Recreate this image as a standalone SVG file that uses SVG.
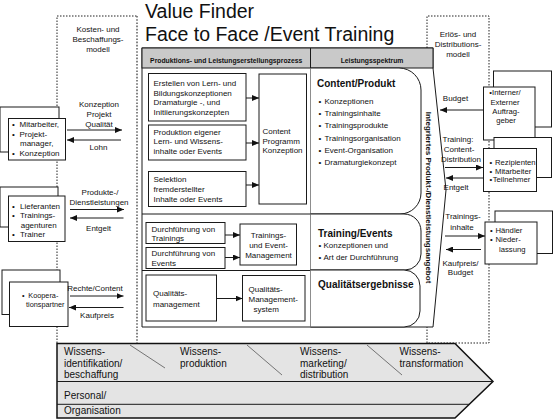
<svg xmlns="http://www.w3.org/2000/svg" width="553" height="419" viewBox="0 0 553 419">
<defs>
<style>
text{font-family:"Liberation Sans",Arial,sans-serif;fill:#111}
.t{font-size:8px}
.s{font-size:7.7px}
.k{font-size:7.3px}
.h{font-size:6.8px;font-weight:bold}
.big{font-size:10px;font-weight:bold}
.band{font-size:10px}
.ttl{font-size:19.5px}
.m{text-anchor:middle}
.box{fill:#fff;stroke:#1a1a1a;stroke-width:1}
.ln{fill:none;stroke:#1a1a1a;stroke-width:1}
.arr{fill:none;stroke:#1a1a1a;stroke-width:1;marker-end:url(#ah)}
.dot{fill:none;stroke:#222;stroke-width:1;stroke-dasharray:1.5 1.5}
.dotb{fill:none;stroke:#666;stroke-width:1.6;stroke-dasharray:1.6 1.6}
.sep{stroke:#444;stroke-width:0.7}
</style>
<marker id="ah" viewBox="0 0 7 6" refX="7" refY="3" markerWidth="7" markerHeight="6" markerUnits="userSpaceOnUse" orient="auto"><path d="M0,0 L7,3 L0,6 z" fill="#111"/></marker>
</defs>
<rect width="553" height="419" fill="#fff"/>

<g id="title">
<text class="ttl" x="145" y="17.5">Value Finder</text>
<text class="ttl" x="145" y="40.5">Face to Face /Event Training</text>
</g>

<g id="kosten-modell">
<path class="dot" d="M57,343 V16 H137"/>
<path class="dotb" d="M137,16 V343"/>
<text class="t m" x="98" y="32">Kosten- und</text>
<text class="t m" x="98" y="42">Beschaffungs-</text>
<text class="t m" x="98" y="52">modell</text>
</g>

<g id="erloes-modell">
<path class="dot" d="M427,48 V16 H489 V343 H427 V327"/>
<text class="t m" x="458" y="37">Erlös- und</text>
<text class="t m" x="458" y="47">Distributions-</text>
<text class="t m" x="458" y="57">modell</text>
</g>

<g id="main-frame">
<path class="box" d="M142,48 H433 V68 L446,190 L433,327 H142 Z"/>
<rect x="142" y="48" width="291" height="20" fill="#c9c9c9" stroke="#1a1a1a" stroke-width="1"/>
<line class="ln" x1="310.5" y1="48" x2="310.5" y2="327"/>
<line class="ln" x1="142" y1="214" x2="310.5" y2="214"/>
<line class="ln" x1="142" y1="270.5" x2="310.5" y2="270.5"/>
<text class="h m" x="226.2" y="62.5">Produktions- und Leistungserstellungsprozess</text>
<text class="h m" x="372" y="62.5">Leistungsspektrum</text>
<text class="t" font-weight="bold" text-anchor="middle" transform="translate(425.5,197.5) rotate(90)">Integriertes Produkt-/Dienstleistungsangebot</text>
</g>

<g id="erstellen">
<rect class="box" x="148.5" y="73.5" width="97.5" height="47.5"/>
<text class="t" x="153.5" y="86">Erstellen von Lern- und</text>
<text class="t" x="153.5" y="95.7">Bildungskonzeptionen</text>
<text class="t" x="153.5" y="105.3">Dramaturgie -, und</text>
<text class="t" x="153.5" y="115">Initiierungskonzepten</text>
</g>
<g id="produktion">
<rect class="box" x="148.5" y="125" width="97.5" height="35"/>
<text class="t" x="153.5" y="134.5">Produktion eigener</text>
<text class="t" x="153.5" y="144.2">Lern- und Wissens-</text>
<text class="t" x="153.5" y="154.2">inhalte oder Events</text>
</g>
<g id="selektion">
<rect class="box" x="148.5" y="171.5" width="97.5" height="35"/>
<text class="t" x="153.5" y="182">Selektion</text>
<text class="t" x="153.5" y="192">fremderstellter</text>
<text class="t" x="153.5" y="202">Inhalte oder Events</text>
</g>
<g id="content-programm">
<rect class="box" x="259" y="74" width="47.5" height="130"/>
<text class="t" x="262.5" y="133.5">Content</text>
<text class="t" x="262.5" y="143.5">Programm</text>
<text class="t" x="262.5" y="153.3">Konzeption</text>
</g>
<g id="durchfuehrung-trainings">
<rect class="box" x="146" y="222.5" width="79" height="21"/>
<text class="t" x="151.5" y="232">Durchführung von</text>
<text class="t" x="151.5" y="241">Trainings</text>
</g>
<g id="durchfuehrung-events">
<rect class="box" x="146" y="247.5" width="79" height="21"/>
<text class="t" x="151.5" y="255.5">Durchführung von</text>
<text class="t" x="151.5" y="266">Events</text>
</g>
<g id="event-management">
<rect class="box" x="240" y="224" width="56.5" height="41"/>
<text class="t m" x="268.5" y="238">Trainings-</text>
<text class="t m" x="268.5" y="248.3">und  Event-</text>
<text class="t m" x="268.5" y="258.3">Management</text>
</g>
<g id="qualitaetsmanagement">
<rect class="box" x="146" y="275" width="70.5" height="46"/>
<text class="t" x="153" y="295.5">Qualitäts-</text>
<text class="t" x="153" y="307">management</text>
</g>
<g id="qm-system">
<rect class="box" x="242.5" y="275.5" width="62.5" height="45.5"/>
<text class="t" x="248.5" y="292">Qualitäts-</text>
<text class="t" x="248.5" y="302">Management-</text>
<text class="t" x="253.5" y="312">system</text>
</g>

<g id="content-produkt">
<path class="box" d="M310.5,68 H399 A22,22 0 0 1 421,90 V193 A21,21 0 0 1 400,214 H310.5"/>
<text class="big" x="317" y="87">Content/Produkt</text>
<text class="t"><tspan x="318.5" y="104">•</tspan><tspan x="324.5" y="104">Konzeptionen</tspan></text>
<text class="t"><tspan x="318.5" y="116.2">•</tspan><tspan x="324.5" y="116.2">Trainingsinhalte</tspan></text>
<text class="t"><tspan x="318.5" y="128.4">•</tspan><tspan x="324.5" y="128.4">Trainingsprodukte</tspan></text>
<text class="t"><tspan x="318.5" y="140.6">•</tspan><tspan x="324.5" y="140.6">Trainingsorganisation</tspan></text>
<text class="t"><tspan x="318.5" y="152.8">•</tspan><tspan x="324.5" y="152.8">Event-Organisation</tspan></text>
<text class="t"><tspan x="318.5" y="165">•</tspan><tspan x="324.5" y="165">Dramaturgiekonzept</tspan></text>
</g>
<g id="training-events">
<path class="box" d="M310.5,214 H404 A17,17 0 0 1 421,231 V254 A16,16 0 0 1 405,270 H310.5"/>
<text class="big" x="318" y="237">Training/Events</text>
<text class="t"><tspan x="318.5" y="248">•</tspan><tspan x="323.5" y="248">Konzeptionen und</tspan></text>
<text class="t"><tspan x="318.5" y="259.5">•</tspan><tspan x="323.5" y="259.5">Art der Durchführung</tspan></text>
</g>
<g id="qualitaetsergebnisse">
<path class="box" d="M310.5,270 H404 A16,16 0 0 1 420,286 V311 A16,16 0 0 1 404,327 H310.5"/>
<text class="big" x="318" y="288">Qualitätsergebnisse</text>
</g>

<g id="mitarbeiter">
<rect class="box" x="0" y="107" width="59" height="45"/>
<rect class="box" x="8.5" y="118.5" width="57" height="41.5"/>
<text class="t"><tspan x="12" y="127">•</tspan><tspan x="19.5" y="127">Mitarbeiter,</tspan></text>
<text class="t"><tspan x="12" y="136.7">•</tspan><tspan x="19.5" y="136.7">Projekt-</tspan></text>
<text class="t" x="20" y="146.3">manager,</text>
<text class="t"><tspan x="12" y="156">•</tspan><tspan x="19.5" y="156">Konzeption</tspan></text>
</g>
<g id="lieferanten">
<rect class="box" x="0" y="187" width="58" height="40"/>
<rect class="box" x="8.5" y="196" width="56.5" height="45.5"/>
<text class="t"><tspan x="12" y="208.5">•</tspan><tspan x="20" y="208.5">Lieferanten</tspan></text>
<text class="t"><tspan x="12" y="218.3">•</tspan><tspan x="20" y="218.3">Trainings-</tspan></text>
<text class="t" x="20.7" y="228">agenturen</text>
<text class="t"><tspan x="12" y="237.3">•</tspan><tspan x="20" y="237.3">Trainer</tspan></text>
</g>
<g id="kooperationspartner">
<rect class="box" x="2" y="270" width="58" height="44.5"/>
<rect class="box" x="9.5" y="282" width="58.5" height="44.5"/>
<text class="k"><tspan x="22" y="297.5">•</tspan><tspan x="28.3" y="297.5">Koopera-</tspan></text>
<text class="k" x="26" y="307">tionspartner</text>
</g>

<g id="auftraggeber">
<rect class="box" x="493.5" y="71" width="58" height="56"/>
<rect class="box" x="483.5" y="87" width="51.5" height="53"/>
<text class="s m" x="505" y="95">•Interner/</text>
<text class="s m" x="505" y="104.5">Externer</text>
<text class="s m" x="506" y="113.7">Auftrag-</text>
<text class="s m" x="506" y="123">geber</text>
</g>
<g id="rezipienten">
<rect class="box" x="494" y="137.5" width="57.5" height="40"/>
<rect class="box" x="483.5" y="148.5" width="53" height="43"/>
<text class="s"><tspan x="489.5" y="164.5">•</tspan><tspan x="495" y="164.5">Rezipienten</tspan></text>
<text class="s"><tspan x="489.5" y="173.5">•</tspan><tspan x="495" y="173.5">Mitarbeiter</tspan></text>
<text class="s"><tspan x="489.5" y="182.3">•</tspan><tspan x="492.7" y="182.3">Teilnehmer</tspan></text>
</g>
<g id="haendler">
<rect class="box" x="495" y="211" width="57.5" height="42.5"/>
<rect class="box" x="485" y="222" width="52" height="42"/>
<text class="s"><tspan x="490" y="233">•</tspan><tspan x="495.5" y="233">Händler</tspan></text>
<text class="s"><tspan x="490" y="242.3">•</tspan><tspan x="495.5" y="242.3">Nieder-</tspan></text>
<text class="s" x="499" y="252">lassung</text>
</g>

<g id="connectors">
<line class="arr" x1="67" y1="130" x2="122" y2="130"/>
<line class="arr" x1="121" y1="140" x2="67" y2="140"/>
<line class="arr" x1="70" y1="209.5" x2="124" y2="209.5"/>
<line class="arr" x1="123.5" y1="218" x2="70" y2="218"/>
<line class="arr" x1="70" y1="296" x2="123.5" y2="296"/>
<line class="arr" x1="123.5" y1="307.5" x2="69" y2="307.5"/>
<line class="arr" x1="246" y1="98" x2="259" y2="98"/>
<line class="arr" x1="246" y1="143" x2="259" y2="143"/>
<line class="arr" x1="246" y1="185" x2="259" y2="185"/>
<line class="arr" x1="225" y1="235" x2="240" y2="235"/>
<line class="arr" x1="225" y1="257.5" x2="240" y2="257.5"/>
<line class="arr" x1="216.5" y1="298.5" x2="242.5" y2="298.5"/>
<line class="arr" x1="483.5" y1="110" x2="440" y2="110"/>
<line class="arr" x1="445" y1="167.5" x2="483" y2="167.5"/>
<line class="arr" x1="483" y1="178" x2="446" y2="178"/>
<line class="arr" x1="445" y1="236" x2="485" y2="236"/>
<line class="arr" x1="481" y1="249.5" x2="446" y2="249.5"/>
<text class="t m" x="99" y="107">Konzeption</text>
<text class="t m" x="99" y="117">Projekt</text>
<text class="t m" x="99" y="126.5">Qualität</text>
<text class="t m" x="98.5" y="150">Lohn</text>
<text class="t m" x="100" y="194.5">Produkte-/</text>
<text class="t m" x="99" y="204.5">Dienstleistungen</text>
<text class="t m" x="98.5" y="230.5">Entgelt</text>
<text class="t m" x="95" y="291">Rechte/Content</text>
<text class="t m" x="97" y="318">Kaufpreis</text>
<text class="t m" x="455.5" y="100.5">Budget</text>
<text class="t m" x="458" y="142">Training:</text>
<text class="t m" x="459" y="152">Content-</text>
<text class="t m" x="461" y="162">Distribution</text>
<text class="t m" x="456" y="189.5">Entgelt</text>
<text class="t m" x="463" y="219">Trainings-</text>
<text class="t m" x="462" y="229.5">inhalte</text>
<text class="t m" x="460.5" y="265.5">Kaufpreis/</text>
<text class="t m" x="460.5" y="275">Budget</text>
</g>

<g id="wertschoepfung">
<path d="M57,343.5 H455 L493,381.5 L455,418 H57 Z" fill="#e4e4e4" stroke="#111" stroke-width="1.5"/>
<line class="ln" x1="57" y1="381.5" x2="493" y2="381.5"/>
<line class="ln" x1="57" y1="404.3" x2="469" y2="404.3"/>
<line class="sep" x1="130" y1="345" x2="165" y2="368"/>
<line class="sep" x1="247" y1="345" x2="282" y2="375"/>
<line class="sep" x1="367" y1="345" x2="402" y2="375"/>
<text class="band" x="64" y="355">Wissens-</text>
<text class="band" x="64" y="366.5">identifikation/</text>
<text class="band" x="64" y="378">beschaffung</text>
<text class="band" x="180" y="355">Wissens-</text>
<text class="band" x="180" y="366.5">produktion</text>
<text class="band" x="300" y="355">Wissens-</text>
<text class="band" x="300" y="366.5">marketing/</text>
<text class="band" x="300" y="378">distribution</text>
<text class="band" x="399.5" y="355">Wissens-</text>
<text class="band" x="399.5" y="366.5">transformation</text>
<text class="band" x="64" y="399">Personal/</text>
<text class="band" x="64" y="414">Organisation</text>
</g>
</svg>
